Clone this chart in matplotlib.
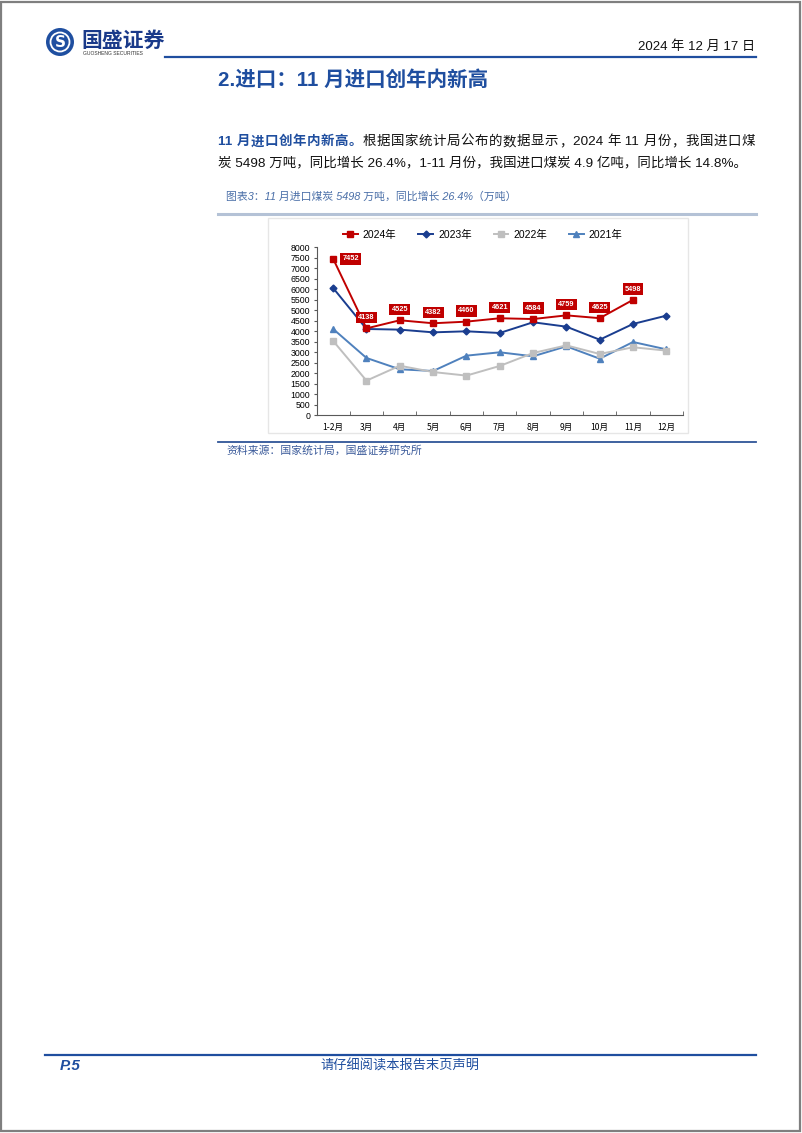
import re
import matplotlib
matplotlib.use("Agg")
import matplotlib.pyplot as plt
from matplotlib.lines import Line2D
from matplotlib.patches import Rectangle, Ellipse

plt.rcParams['font.family'] = ['Liberation Sans', 'Noto Sans CJK SC', 'DejaVu Sans']

# ---------------- data ----------------
months = ['1-2月', '3月', '4月', '5月', '6月', '7月', '8月', '9月', '10月', '11月', '12月']
y2024 = [7452, 4138, 4525, 4382, 4460, 4621, 4584, 4759, 4625, 5498]
y2023 = [6060, 4110, 4080, 3950, 4000, 3920, 4430, 4220, 3600, 4350, 4745]
y2022 = [3540, 1650, 2360, 2060, 1890, 2350, 2965, 3330, 2920, 3240, 3080]
y2021 = [4110, 2730, 2190, 2110, 2840, 3000, 2810, 3285, 2695, 3490, 3140]
series_names = ['2024年', '2023年', '2022年', '2021年']
yticks = list(range(0, 8001, 500))

W, H = 802, 1133
fig = plt.figure(figsize=(W / 100, H / 100), dpi=100)
renderer = fig.canvas.get_renderer()

def fx(x):
    return x / W

def fy(y):
    return 1 - y / H

BLUE = '#1F4E9F'
DARK = '#1a3a8a'

# page border
fig.add_artist(Rectangle((fx(1), fy(1131)), fx(799), 1129 / H, transform=fig.transFigure,
                         fill=False, ec='#7f7f7f', lw=1.6))

# logo
fig.add_artist(Ellipse((fx(60), fy(42)), 28 / W, 28 / H, transform=fig.transFigure,
                       fc='#1f4fa0', ec='none'))
fig.add_artist(Ellipse((fx(60), fy(42)), 19 / W, 19 / H, transform=fig.transFigure,
                       fc='none', ec='white', lw=1.3))
fig.text(fx(60), fy(42.5), 'S', color='white', fontsize=11, fontweight='bold',
         ha='center', va='center', family=['DejaVu Sans'])
fig.text(fx(81), fy(40), '国盛证券', color=DARK, fontsize=15, fontweight='bold',
         ha='left', va='center', family=['Noto Sans CJK SC'])
fig.text(fx(83), fy(53.5), 'GUOSHENG SECURITIES', color='#333333', fontsize=3.6,
         ha='left', va='center')

# header line and date
fig.add_artist(Line2D([fx(165), fx(756)], [fy(57), fy(57)], transform=fig.transFigure,
                      color=BLUE, lw=1.6))
fig.text(fx(755), fy(47), '2024 年 12 月 17 日', fontsize=9.5, color='#111111',
         ha='right', va='center')

# section title
fig.text(fx(218), fy(80), '2.进口：11 月进口创年内新高', fontsize=14.8, fontweight='bold',
         color=BLUE, ha='left', va='center')

# paragraph (first line justified to the right margin)
PFS = 9.7

def justified(parts, x0, x1, y):
    toks = []
    for txt, kw in parts:
        for t in re.findall(r'[ 0-9A-Za-z.%\-]+|.', txt):
            toks.append((t, kw))
    objs = []
    total = 0.0
    for t, kw in toks:
        o = fig.text(0, fy(y), t, fontsize=PFS, ha='left', va='center', **kw)
        w = o.get_window_extent(renderer).width
        objs.append((o, w))
        total += w
    gap = (x1 - x0 - total) / (len(objs) - 1)
    x = x0
    for o, w in objs:
        o.set_x(fx(x))
        x += w + gap

justified([('11 月进口创年内新高。', dict(color=BLUE, fontweight='bold')),
           ('根据国家统计局公布的数据显示，2024 年 11 月份，我国进口煤', dict(color='#111111'))],
          218, 755, 142)
fig.text(fx(218), fy(163), '炭 5498 万吨，同比增长 26.4%，1-11 月份，我国进口煤炭 4.9 亿吨，同比增长 14.8%。',
         fontsize=PFS, color='#111111', ha='left', va='center')

# chart caption
fig.text(fx(226), fy(197), '图表3：11 月进口煤炭 5498 万吨，同比增长 26.4%（万吨）',
         fontsize=7.8, color='#4a6fa8', ha='left', va='center', style='italic')
fig.add_artist(Line2D([fx(218), fx(756)], [fy(213.5), fy(213.5)], transform=fig.transFigure,
                      color='#b4c2d6', lw=2.2))

# chart frame
fig.add_artist(Rectangle((fx(268), fy(433)), fx(420), 215 / H, transform=fig.transFigure,
                         fill=False, ec='#e6e6e6', lw=1.0))

# source
fig.add_artist(Line2D([fx(218), fx(756)], [fy(441.5), fy(441.5)], transform=fig.transFigure,
                      color='#2F5597', lw=1.3))
fig.text(fx(226), fy(450.5), '资料来源：国家统计局，国盛证券研究所', fontsize=7.8,
         color='#3a5a9a', ha='left', va='center', style='italic')

# footer
fig.add_artist(Line2D([fx(45), fx(756)], [fy(1055), fy(1055)], transform=fig.transFigure,
                      color=BLUE, lw=1.6))
fig.text(fx(60), fy(1066), 'P.5', fontsize=11, fontweight='bold', style='italic',
         color=BLUE, ha='left', va='center')
fig.text(fx(400), fy(1066), '请仔细阅读本报告末页声明', fontsize=9.5, color=BLUE,
         ha='center', va='center', style='italic')

# ---------------- chart ----------------
ax = fig.add_axes([fx(316.5), fy(415.3), (683 - 316.5) / W, 168 / H])
x_all = list(range(len(months)))

l21, = ax.plot(x_all[:len(y2021)], y2021, color='#4F81BD', lw=1.4, marker='^', ms=5,
               label=series_names[3], zorder=2)
l22, = ax.plot(x_all[:len(y2022)], y2022, color='#BFBFBF', lw=1.4, marker='s', ms=4.5,
               label=series_names[2], zorder=2)
l23, = ax.plot(x_all[:len(y2023)], y2023, color='#1A3D8F', lw=1.4, marker='D', ms=3.5,
               label=series_names[1], zorder=3)
l24, = ax.plot(x_all[:len(y2024)], y2024, color='#C00000', lw=1.4, marker='s', ms=4.5,
               label=series_names[0], zorder=4)

for i, v in enumerate(y2024):
    off = (12.5, 0) if i == 0 else (0, 7.8)
    ax.annotate(f'{v}', (i, v), xytext=off, textcoords='offset points', ha='center',
                va='center', fontsize=5.3, color='white', fontweight='bold',
                bbox=dict(boxstyle='square,pad=0.3', fc='#C00000', ec='none'), zorder=5)

ax.set_xlim(-0.5, len(months) - 0.5)
ax.set_ylim(0, 8000)
ax.set_yticks(yticks)
ax.set_yticklabels([str(t) for t in yticks], fontsize=6.3)
ax.set_xticks(x_all)
ax.set_xticklabels(months, fontsize=6.2, family=['Noto Sans CJK SC'])
ax.set_xticks([i + 0.5 for i in range(-1, len(months))], minor=True)
ax.tick_params(axis='x', which='major', length=0, pad=5.5)
ax.tick_params(axis='x', which='minor', length=3, direction='in', color='#595959')
ax.tick_params(axis='y', length=2, direction='out', color='#595959', pad=2.5)
for s in ['top', 'right']:
    ax.spines[s].set_visible(False)
for s in ['left', 'bottom']:
    ax.spines[s].set_color('#595959')
    ax.spines[s].set_linewidth(0.8)
ax.patch.set_alpha(0)

ax.legend(handles=[l24, l23, l22, l21], ncol=4, loc='center',
          bbox_to_anchor=(0.454, 1.073), frameon=False, fontsize=7.5,
          handlelength=1.4, columnspacing=2.1, handletextpad=0.5, borderaxespad=0,
          borderpad=0)

fig.savefig('out.png', dpi=100)
